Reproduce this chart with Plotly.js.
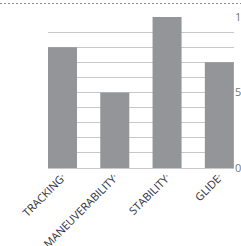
<!DOCTYPE html>
<html><head><meta charset="utf-8">
<script src="https://cdn.plot.ly/plotly-3.0.1.min.js"></script>
<style>
html,body{margin:0;padding:0;background:#fff;}
</style>
</head><body>
<div id="chart" style="width:241px;height:246px;"></div>
<script>
var categories = ["TRACKING", "MANEUVERABILITY", "STABILITY", "GLIDE"];
var values = [8, 5, 10, 7];
var yTickVals = [0, 5, 10];
var yTickText = ["0", "5", "10"];

var labels = categories.map(function(c){ return c + "<span style='font-size:6px'><sup>*</sup></span>"; });

var trace = {
  type: "bar",
  x: labels,
  y: values,
  marker: {color: "#939598"},
  hoverinfo: "skip"
};

var layout = {
  width: 241, height: 246,
  margin: {l: 48, r: 7, t: 17, b: 78, pad: 0},
  paper_bgcolor: "#fff", plot_bgcolor: "#fff",
  bargap: 0.445,
  showlegend: false,
  font: {family: "Open Sans", color: "#333"},
  xaxis: {
    range: [-0.277, 3.28],
    tickangle: -45,
    tickfont: {size: 11, color: "#333", family: "Open Sans"},
    showgrid: false, zeroline: false, showline: false, ticks: ""
  },
  yaxis: {
    side: "right",
    range: [0, 10],
    tickvals: yTickVals, ticktext: yTickText,
    tickfont: {size: 11, color: "#777"},
    showgrid: true, gridcolor: "#c8c8c8", gridwidth: 1,
    minor: {dtick: 1, showgrid: true, gridcolor: "#c8c8c8", gridwidth: 1},
    zeroline: true, zerolinecolor: "#c8c8c8", zerolinewidth: 1,
    showline: false, ticks: ""
  },
  shapes: [{
    type: "line", xref: "paper", yref: "paper", layer: "above",
    x0: -0.258, x1: 1.038, y0: 1.0894, y1: 1.0894,
    line: {color: "#8a8a8a", width: 1, dash: "2px,2px"}
  }]
};

Plotly.newPlot("chart", [trace], layout, {displayModeBar: false, staticPlot: true});
</script>
</body></html>
